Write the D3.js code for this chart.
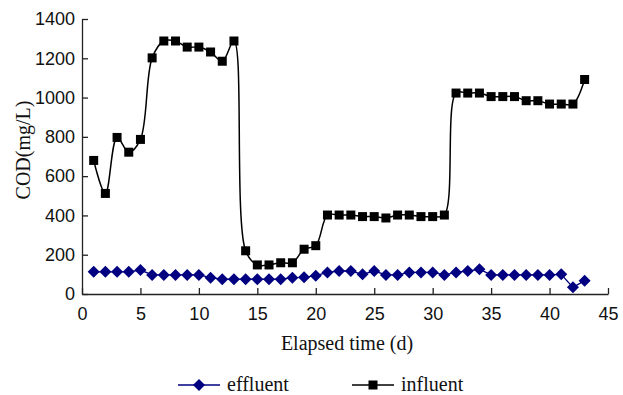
<!DOCTYPE html>
<html>
<head>
<meta charset="utf-8">
<script src="https://cdn.jsdelivr.net/npm/d3@7"></script>
<style>
  body { margin: 0; background: #fff; }
  svg { display: block; }
</style>
</head>
<body>
<svg id="chart"></svg>
<script>
// data
const days = d3.range(1, 44);
const influent = [680, 512, 797, 722, 787, 1202, 1288, 1288, 1257, 1257, 1232, 1185, 1288,
  220, 148, 148, 159, 159, 228, 246, 402, 402, 402, 394, 394, 387, 402, 402, 394, 394, 402,
  1023, 1023, 1023, 1005, 1005, 1005, 984, 984, 967, 967, 967, 1092];
const effluent = [113, 113, 113, 113, 122, 97, 97, 97, 97, 97, 83, 75, 75, 75, 75, 75, 75,
  83, 85, 93, 110, 117, 117, 100, 117, 97, 97, 110, 110, 110, 97, 110, 117, 126,
  97, 97, 97, 97, 97, 97, 100, 34, 68];
const xTicks = [0, 5, 10, 15, 20, 25, 30, 35, 40, 45];
const yTicks = [0, 200, 400, 600, 800, 1000, 1200, 1400];

const width = 623, height = 395;
const margin = {top: 19, right: 15, bottom: 101, left: 82};

const svg = d3.select("#chart")
  .attr("width", width)
  .attr("height", height);

const x = d3.scaleLinear().domain([0, 45]).range([margin.left, width - margin.right]);
const y = d3.scaleLinear().domain([0, 1400]).range([height - margin.bottom, margin.top]);

// axes, ticks pointing inside
const xAxis = svg.append("g")
  .attr("transform", `translate(0,${y(0)})`)
  .call(d3.axisBottom(x).tickValues(xTicks).tickFormat(d3.format("d"))
    .tickSizeInner(-6).tickSizeOuter(0).tickPadding(13));
const yAxis = svg.append("g")
  .attr("transform", `translate(${x(0)},0)`)
  .call(d3.axisLeft(y).tickValues(yTicks).tickFormat(d3.format("d"))
    .tickSizeInner(-6).tickSizeOuter(0).tickPadding(7));

[xAxis, yAxis].forEach(g => {
  g.select(".domain").attr("stroke", "#222").attr("stroke-width", 1.3);
  g.selectAll(".tick line").attr("stroke", "#222").attr("stroke-width", 1.3);
  g.selectAll(".tick text")
    .attr("fill", "#111")
    .style("font-family", "'Liberation Sans', Arial, sans-serif")
    .style("font-size", "18px");
});

// axis titles
svg.append("text")
  .attr("x", (x(0) + x(45)) / 2 + 2)
  .attr("y", 350)
  .attr("text-anchor", "middle")
  .style("font-family", "'Liberation Serif', 'Times New Roman', serif")
  .style("font-size", "20px")
  .attr("fill", "#111")
  .text("Elapsed time (d)");

svg.append("text")
  .attr("transform", "translate(30,150) rotate(-90)")
  .attr("text-anchor", "middle")
  .style("font-family", "'Liberation Serif', 'Times New Roman', serif")
  .style("font-size", "20px")
  .attr("fill", "#111")
  .text("COD(mg/L)");

// influent: smoothed black line with square markers
const infData = days.map((d, i) => ({d: d, v: influent[i]}));
svg.append("path")
  .datum(infData)
  .attr("fill", "none")
  .attr("stroke", "#000")
  .attr("stroke-width", 1.5)
  .attr("d", d3.line().x(p => x(p.d)).y(p => y(p.v)).curve(d3.curveCatmullRom.alpha(0.5)));

svg.selectAll(".sq")
  .data(infData)
  .enter().append("rect")
  .attr("class", "sq")
  .attr("x", p => x(p.d) - 4.5)
  .attr("y", p => y(p.v) - 4.5)
  .attr("width", 9)
  .attr("height", 9)
  .attr("fill", "#000");

// effluent: straight navy line with diamond markers
const effData = days.map((d, i) => ({d: d, v: effluent[i]}));
svg.append("path")
  .datum(effData)
  .attr("fill", "none")
  .attr("stroke", "#000080")
  .attr("stroke-width", 1.3)
  .attr("d", d3.line().x(p => x(p.d)).y(p => y(p.v)));

const diamond = "M0,-6L6,0L0,6L-6,0Z";
svg.selectAll(".dm")
  .data(effData)
  .enter().append("path")
  .attr("class", "dm")
  .attr("transform", p => `translate(${x(p.d)},${y(p.v)})`)
  .attr("d", diamond)
  .attr("fill", "#000080");

// legend
const legend = [
  {name: "effluent", color: "#000080", x0: 178, marker: "diamond"},
  {name: "influent", color: "#000", x0: 352, marker: "square"}
];
const ly = 385;
legend.forEach(l => {
  const g = svg.append("g");
  g.append("line")
    .attr("x1", l.x0).attr("x2", l.x0 + 42)
    .attr("y1", ly).attr("y2", ly)
    .attr("stroke", l.color).attr("stroke-width", 1.5);
  if (l.marker === "diamond") {
    g.append("path")
      .attr("transform", `translate(${l.x0 + 21},${ly})`)
      .attr("d", diamond)
      .attr("fill", l.color);
  } else {
    g.append("rect")
      .attr("x", l.x0 + 21 - 4.5).attr("y", ly - 4.5)
      .attr("width", 9).attr("height", 9)
      .attr("fill", l.color);
  }
  g.append("text")
    .attr("x", l.x0 + 49)
    .attr("y", ly + 6)
    .style("font-family", "'Liberation Serif', 'Times New Roman', serif")
    .style("font-size", "20px")
    .attr("fill", "#111")
    .text(l.name);
});
</script>
</body>
</html>
